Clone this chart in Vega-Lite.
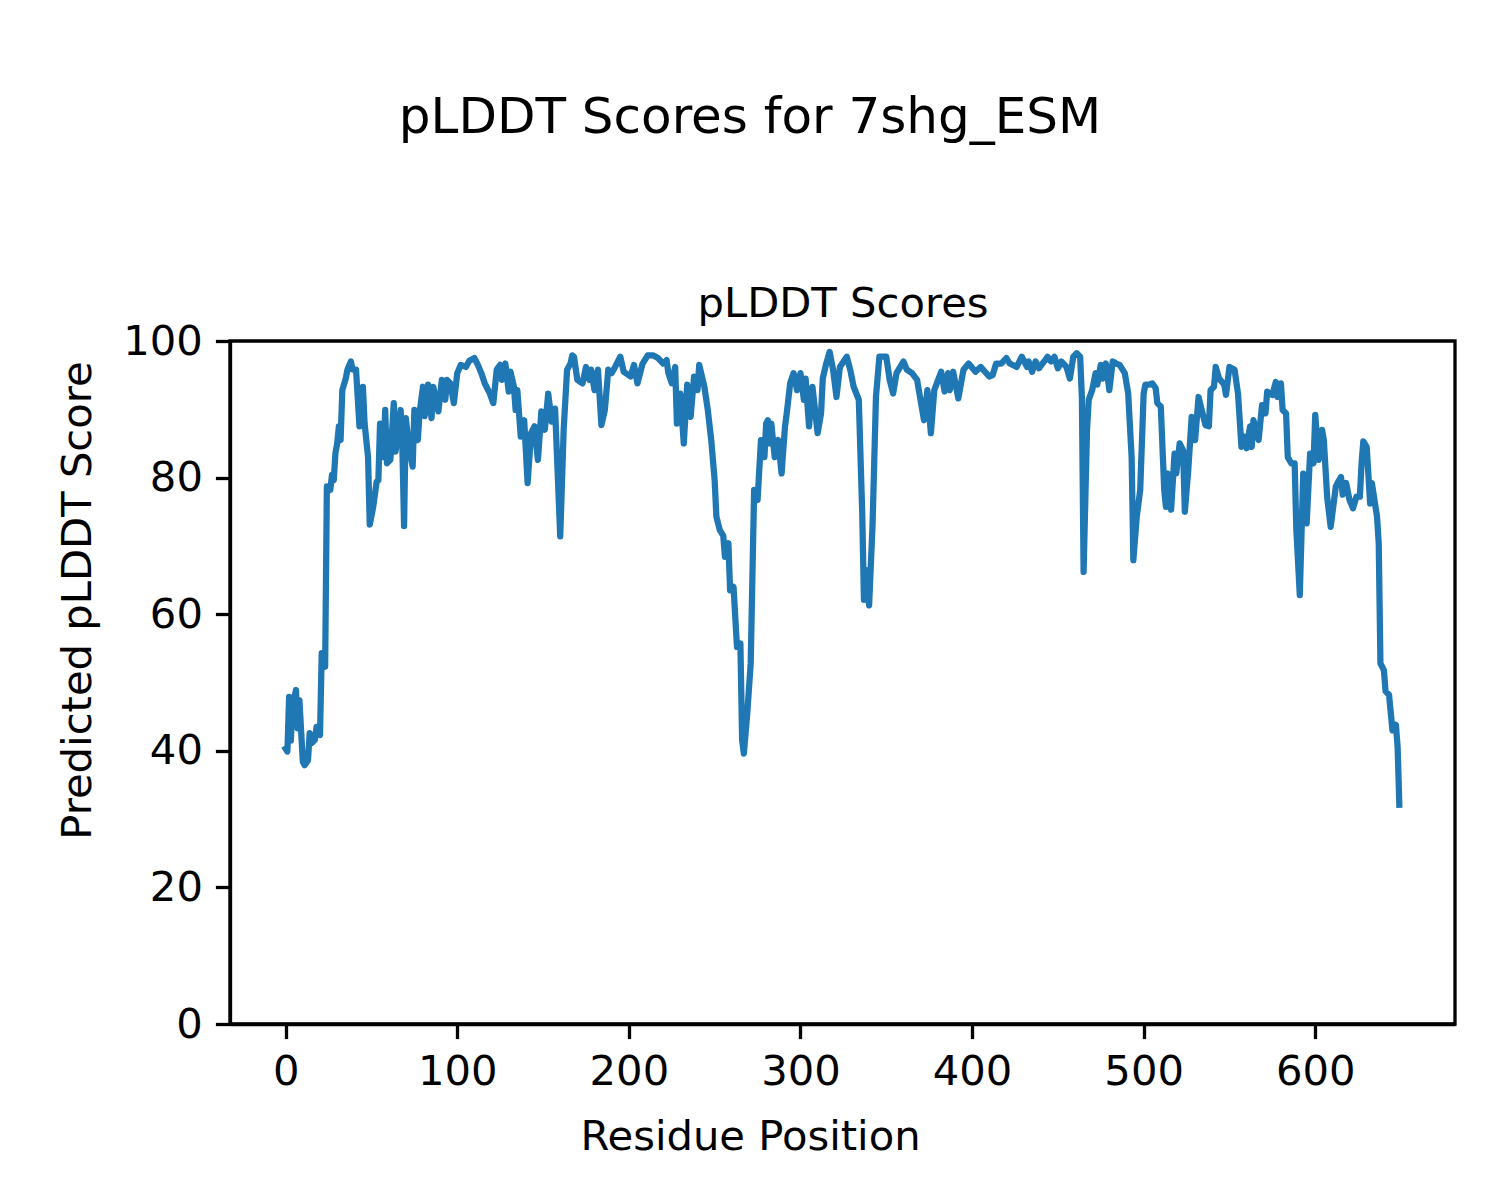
{
  "$schema": "https://vega.github.io/schema/vega-lite/v6.json",
  "width": 1225,
  "height": 683,
  "autosize": "none",
  "padding": {"left": 230, "top": 341, "right": 45, "bottom": 176},
  "background": "white",
  "config": {
    "font": "DejaVu Sans",
    "view": {"stroke": "black", "strokeWidth": 3.3},
    "axis": {
      "grid": false,
      "domain": true,
      "domainColor": "black",
      "domainWidth": 3.3,
      "tickColor": "black",
      "tickWidth": 3.3,
      "tickSize": 14.6,
      "labelPadding": 13,
      "labelFont": "DejaVu Sans",
      "labelFontSize": 41.7,
      "labelColor": "black",
      "labelFlush": false,
      "labelOverlap": false,
      "titleFont": "DejaVu Sans",
      "titleFontSize": 41.7,
      "titleFontWeight": "normal",
      "titleColor": "black"
    }
  },
  "title": {
    "text": "pLDDT Scores for 7shg_ESM",
    "font": "DejaVu Sans",
    "fontSize": 50,
    "fontWeight": "normal",
    "color": "black",
    "anchor": "middle",
    "orient": "top",
    "baseline": "alphabetic",
    "dx": -92.5,
    "offset": 100
  },
  "data": {
    "values": [
      {"r":0,"v":40.3},{"r":1,"v":39.9},{"r":2,"v":47.9},{"r":3,"v":41.5},{"r":4,"v":46.5},{"r":6,"v":48.9},{"r":7,"v":43.3},{"r":8,"v":47.4},{"r":10,"v":38.4},{"r":11,"v":37.9},
      {"r":13,"v":38.6},{"r":14,"v":42.6},{"r":15,"v":41.1},{"r":17,"v":41.6},{"r":18,"v":43.5},{"r":20,"v":42.3},{"r":21,"v":54.3},{"r":23,"v":52.3},{"r":24,"v":78.7},{"r":26,"v":78.2},
      {"r":27,"v":80.4},{"r":28,"v":79.6},{"r":29,"v":83.6},{"r":30,"v":85},{"r":31,"v":87.5},{"r":32,"v":85.5},{"r":33,"v":92.8},{"r":35,"v":94.5},{"r":36,"v":95.8},{"r":38,"v":97},
      {"r":39,"v":95.8},{"r":41,"v":95.8},{"r":43,"v":87.5},{"r":45,"v":93.3},{"r":46,"v":87.9},{"r":48,"v":83},{"r":49,"v":73.1},{"r":51,"v":75.7},{"r":53,"v":79.4},{"r":54,"v":79.6},
      {"r":55,"v":87.9},{"r":57,"v":83},{"r":58,"v":89.9},{"r":59,"v":82.1},{"r":61,"v":82.6},{"r":63,"v":90.9},{"r":64,"v":83.8},{"r":65,"v":85.5},{"r":67,"v":89.9},{"r":68,"v":84.3},
      {"r":69,"v":72.9},{"r":70,"v":88.7},{"r":72,"v":84.3},{"r":74,"v":81.6},{"r":75,"v":89.9},{"r":77,"v":85.5},{"r":78,"v":89.4},{"r":80,"v":93.3},{"r":81,"v":89},{"r":83,"v":93.6},
      {"r":85,"v":88.7},{"r":86,"v":93.3},{"r":89,"v":89.7},{"r":91,"v":94.3},{"r":93,"v":91.4},{"r":94,"v":94.3},{"r":96,"v":93.8},{"r":98,"v":90.9},{"r":100,"v":95.3},{"r":102,"v":96.5},
      {"r":105,"v":96.2},{"r":107,"v":97.1},{"r":110,"v":97.5},{"r":112,"v":96.5},{"r":114,"v":95.3},{"r":116,"v":93.8},{"r":117,"v":93.3},{"r":119,"v":92.3},{"r":121,"v":90.9},{"r":123,"v":95.8},
      {"r":125,"v":96.5},{"r":126,"v":94.3},{"r":128,"v":96.7},{"r":130,"v":92.6},{"r":131,"v":95.5},{"r":133,"v":93.3},{"r":134,"v":89.9},{"r":135,"v":92.8},{"r":137,"v":86},{"r":139,"v":88.4},
      {"r":141,"v":79.2},{"r":143,"v":86.5},{"r":145,"v":87.5},{"r":147,"v":82.6},{"r":149,"v":89.7},{"r":151,"v":87},{"r":153,"v":92.3},{"r":155,"v":88.2},{"r":157,"v":90.1},{"r":160,"v":71.4},
      {"r":162,"v":87},{"r":164,"v":95.8},{"r":166,"v":96.7},{"r":167,"v":97.9},{"r":168,"v":97.7},{"r":170,"v":94.3},{"r":173,"v":93.8},{"r":175,"v":96.2},{"r":177,"v":94.3},{"r":178,"v":95.8},
      {"r":180,"v":92.8},{"r":182,"v":95.8},{"r":184,"v":87.7},{"r":186,"v":89.9},{"r":188,"v":95.8},{"r":190,"v":95.3},{"r":192,"v":96.2},{"r":195,"v":97.7},{"r":197,"v":95.5},{"r":201,"v":94.8},
      {"r":203,"v":96.5},{"r":205,"v":93.8},{"r":208,"v":96.7},{"r":211,"v":97.9},{"r":214,"v":97.9},{"r":217,"v":97.5},{"r":220,"v":96.7},{"r":222,"v":97.2},{"r":223,"v":95.3},{"r":225,"v":93.8},
      {"r":227,"v":96.2},{"r":228,"v":87.9},{"r":230,"v":92.3},{"r":232,"v":85},{"r":234,"v":93.6},{"r":236,"v":88.9},{"r":238,"v":94.8},{"r":240,"v":92.8},{"r":241,"v":96.5},{"r":244,"v":93.3},
      {"r":246,"v":89.9},{"r":248,"v":85.5},{"r":250,"v":79.6},{"r":251,"v":74.3},{"r":253,"v":72.3},{"r":255,"v":71.5},{"r":256,"v":68.4},{"r":258,"v":70.4},{"r":259,"v":63.5},{"r":261,"v":64},
      {"r":263,"v":55.2},{"r":265,"v":55.7},{"r":266,"v":41.6},{"r":267,"v":39.6},{"r":269,"v":45.5},{"r":271,"v":52.8},{"r":273,"v":78.2},{"r":275,"v":76.7},{"r":277,"v":85.5},{"r":279,"v":83},
      {"r":280,"v":87.9},{"r":281,"v":88.4},{"r":282,"v":85},{"r":283,"v":87.9},{"r":285,"v":83},{"r":287,"v":85.5},{"r":289,"v":80.6},{"r":291,"v":87.5},{"r":292,"v":89.4},{"r":294,"v":93.8},
      {"r":296,"v":95.3},{"r":298,"v":92.8},{"r":300,"v":95.3},{"r":302,"v":91.4},{"r":303,"v":94.5},{"r":305,"v":87.5},{"r":307,"v":93.3},{"r":310,"v":86.5},{"r":312,"v":89.4},{"r":313,"v":94.5},
      {"r":315,"v":96.7},{"r":317,"v":98.4},{"r":319,"v":95.8},{"r":321,"v":91.8},{"r":323,"v":96.2},{"r":327,"v":97.7},{"r":329,"v":95.8},{"r":331,"v":93.3},{"r":334,"v":91.4},{"r":336,"v":74.8},
      {"r":337,"v":62.1},{"r":338,"v":66.5},{"r":340,"v":61.3},{"r":342,"v":73},{"r":344,"v":91.8},{"r":346,"v":97.7},{"r":350,"v":97.7},{"r":352,"v":94.3},{"r":354,"v":92.3},{"r":356,"v":95.3},
      {"r":360,"v":97},{"r":362,"v":95.8},{"r":365,"v":95.3},{"r":368,"v":94.3},{"r":369,"v":92.8},{"r":372,"v":88.4},{"r":374,"v":92.8},{"r":376,"v":86.5},{"r":378,"v":92.8},{"r":382,"v":95.5},
      {"r":384,"v":92.6},{"r":386,"v":95.3},{"r":387,"v":92.8},{"r":389,"v":95.5},{"r":392,"v":91.6},{"r":395,"v":95.8},{"r":398,"v":96.7},{"r":402,"v":95.5},{"r":405,"v":96.2},{"r":410,"v":94.8},
      {"r":412,"v":95},{"r":414,"v":96.7},{"r":417,"v":96.7},{"r":420,"v":97.5},{"r":422,"v":96.7},{"r":426,"v":96.2},{"r":429,"v":97.7},{"r":432,"v":96.2},{"r":433,"v":97},{"r":435,"v":95.5},
      {"r":437,"v":97},{"r":439,"v":96},{"r":442,"v":97},{"r":444,"v":97.7},{"r":446,"v":97},{"r":448,"v":97.7},{"r":450,"v":96},{"r":452,"v":97},{"r":455,"v":96.2},{"r":457,"v":94.5},
      {"r":459,"v":97.7},{"r":461,"v":98.2},{"r":463,"v":97.7},{"r":464,"v":91.8},{"r":465,"v":66.2},{"r":467,"v":87},{"r":468,"v":91.4},{"r":470,"v":92.8},{"r":472,"v":95.3},{"r":473,"v":93.6},
      {"r":475,"v":96.5},{"r":476,"v":94.5},{"r":478,"v":96.7},{"r":480,"v":92.8},{"r":482,"v":97},{"r":484,"v":96.7},{"r":486,"v":96.5},{"r":489,"v":95.3},{"r":491,"v":92.3},{"r":493,"v":83},
      {"r":494,"v":67.9},{"r":496,"v":74.3},{"r":498,"v":78.2},{"r":500,"v":92.3},{"r":501,"v":93.6},{"r":503,"v":93.6},{"r":505,"v":93.8},{"r":507,"v":93.1},{"r":508,"v":90.9},{"r":510,"v":90.4},
      {"r":512,"v":78.2},{"r":513,"v":75.7},{"r":514,"v":80.6},{"r":516,"v":75.3},{"r":518,"v":83.5},{"r":519,"v":80.6},{"r":521,"v":85},{"r":523,"v":84},{"r":524,"v":75},{"r":526,"v":81.1},
      {"r":528,"v":88.9},{"r":530,"v":85.5},{"r":532,"v":91.8},{"r":534,"v":89.7},{"r":536,"v":87.7},{"r":538,"v":87.5},{"r":539,"v":92.8},{"r":541,"v":93.3},{"r":542,"v":96.2},{"r":544,"v":94.5},
      {"r":547,"v":93.6},{"r":548,"v":92.1},{"r":550,"v":96.2},{"r":553,"v":95.8},{"r":555,"v":92.3},{"r":557,"v":84.5},{"r":559,"v":86},{"r":560,"v":84.3},{"r":562,"v":87.5},{"r":563,"v":84.5},
      {"r":564,"v":88.4},{"r":567,"v":85.5},{"r":569,"v":90.6},{"r":571,"v":89.4},{"r":572,"v":92.6},{"r":575,"v":92.1},{"r":577,"v":94},{"r":578,"v":91.8},{"r":580,"v":93.8},{"r":581,"v":89.9},
      {"r":583,"v":89.4},{"r":584,"v":83},{"r":586,"v":82.1},{"r":588,"v":82.1},{"r":589,"v":72.3},{"r":591,"v":62.8},{"r":593,"v":80.6},{"r":595,"v":73.3},{"r":597,"v":83.5},{"r":599,"v":82.1},
      {"r":600,"v":89.2},{"r":602,"v":82.6},{"r":604,"v":87},{"r":605,"v":85.5},{"r":607,"v":77},{"r":609,"v":72.8},{"r":612,"v":78.7},{"r":613,"v":79.2},{"r":615,"v":80.1},{"r":616,"v":77.5},
      {"r":618,"v":79.2},{"r":620,"v":76.7},{"r":622,"v":75.5},{"r":624,"v":77.2},{"r":626,"v":77.2},{"r":627,"v":82.1},{"r":628,"v":85.3},{"r":630,"v":84.5},{"r":632,"v":76.2},{"r":633,"v":79.2},
      {"r":636,"v":74.3},{"r":637,"v":70.4},{"r":638,"v":52.8},{"r":640,"v":51.8},{"r":641,"v":48.7},{"r":643,"v":48.2},{"r":645,"v":43},{"r":646,"v":43.5},{"r":647,"v":43.8},{"r":648,"v":40.6},
      {"r":649,"v":32.1}
    ]
  },
  "layer": [
    {
      "mark": {"type": "line", "color": "#1f77b4", "strokeWidth": 6.25, "strokeJoin": "round", "strokeCap": "square", "clip": true},
      "encoding": {
        "x": {
          "field": "r",
          "type": "quantitative",
          "scale": {"domain": [-32.45, 681.45], "nice": false, "zero": false},
          "axis": {
            "orient": "bottom",
            "values": [0, 100, 200, 300, 400, 500, 600],
            "title": "Residue Position",
            "titleX": 520,
            "titleY": 125,
            "titleAlign": "center",
            "titleBaseline": "alphabetic",
            "titleAnchor": null
          }
        },
        "y": {
          "field": "v",
          "type": "quantitative",
          "scale": {"domain": [0, 100], "nice": false},
          "axis": {
            "values": [0, 20, 40, 60, 80, 100],
            "title": "Predicted pLDDT Score",
            "titleX": -140,
            "titleY": 259,
            "titleAngle": -90,
            "titleAlign": "center",
            "titleBaseline": "alphabetic"
          }
        }
      }
    },
    {
      "mark": {"type": "line", "opacity": 0},
      "encoding": {
        "x": {
          "field": "r",
          "type": "quantitative",
          "axis": {
            "orient": "top",
            "labels": false,
            "ticks": false,
            "domain": false,
            "title": "pLDDT Scores",
            "titleX": 612.5,
            "titleY": -25,
            "titleAlign": "center",
            "titleBaseline": "alphabetic"
          }
        },
        "y": {"field": "v", "type": "quantitative"}
      }
    }
  ],
  "resolve": {"axis": {"x": "independent"}}
}
